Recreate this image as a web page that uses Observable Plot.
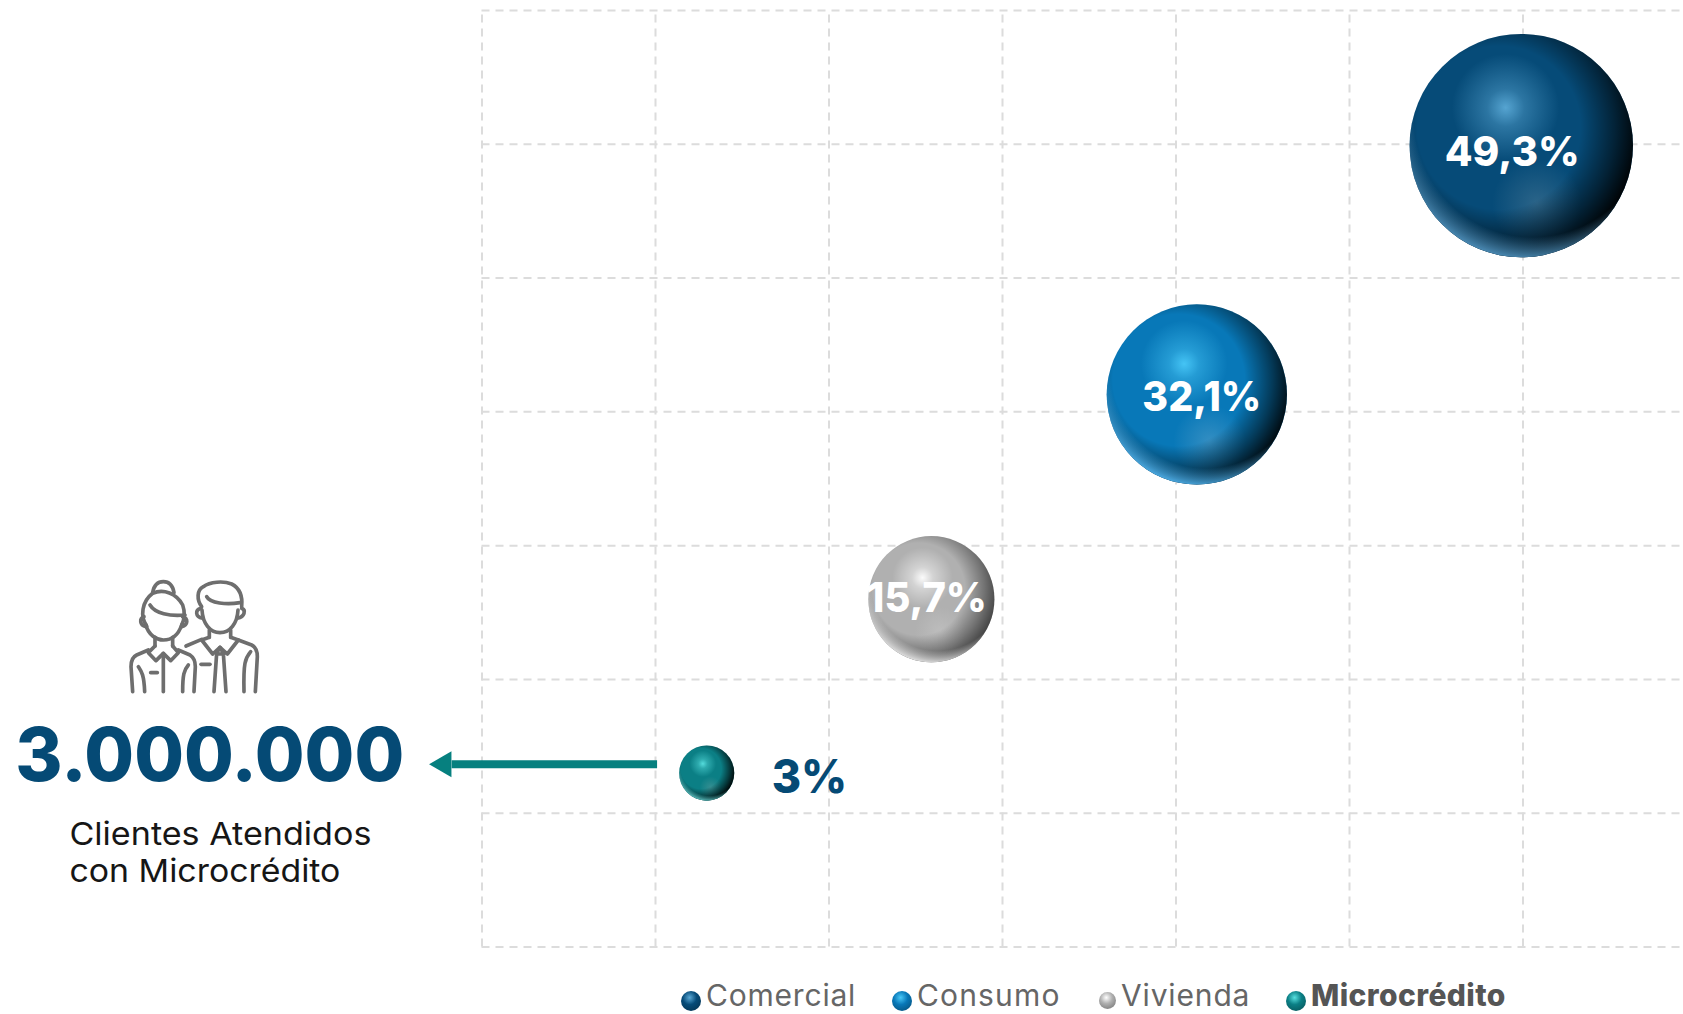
<!DOCTYPE html>
<html lang="es">
<head>
<meta charset="utf-8">
<title>Clientes Atendidos con Microcrédito</title>
<script src="https://cdn.jsdelivr.net/npm/d3@7"></script>
<script src="https://cdn.jsdelivr.net/npm/@observablehq/plot@0.6"></script>
<style>
  html, body { margin: 0; padding: 0; background: #fff; overflow: hidden; }
  svg { display: block; }
  #legend { position: relative; height: 39px; font-family: Inter, sans-serif; font-size: 30px; color: #666; }
  #legend .item { position: absolute; top: 2px; display: flex; align-items: center; height: 37px; line-height: 37px; }
  #legend .swatch { display: inline-block; border-radius: 50%; margin-right: 5px; position: relative; top: 5px; }
</style>
</head>
<body>
<div id="chart"></div>
<div id="legend"></div>
<script>
// ---- values ----
const categories = ["Comercial", "Consumo", "Vivienda", "Microcrédito"];
const shares = [49.3, 32.1, 15.7, 3];
const shareLabels = ["49,3%", "32,1%", "15,7%", "3%"];
const xValues = [5.99, 4.12, 2.59, 1.295];
const yValues = [5.99, 4.13, 2.6, 1.3];
const xGrid = [0, 1, 2, 3, 4, 5, 6];
const yGrid = [0, 1, 2, 3, 4, 5, 6, 7];
const headline = "3.000.000";
const captionLines = ["Clientes Atendidos", "con Microcrédito"];

// ---- styling ----
const INK = "#054a75";
const FONT = "Inter, sans-serif";
const palette = [
  {base: "#064b78", hl: "#5aa9d6", glow: "#3f7292", rim: "#4a8ab4", dark: 0.97},
  {base: "#0878b8", hl: "#48c8f8", glow: "#4a9ac8", rim: "#4aa8e0", dark: 0.92},
  {base: "#b0b0b0", hl: "#ffffff", glow: "#c4c4c4", rim: "#dedede", dark: 0.62},
  {base: "#0b7f85", hl: "#58e0e0", glow: "#4a9698", rim: "#58bcbc", dark: 0.97}
];
const labelStyle = [
  {dx: -9, dy: 7, size: 41, width: 135, anchor: "middle", fill: "white"},
  {dx: 5, dy: 3, size: 41, width: 119, anchor: "middle", fill: "white"},
  {dx: -4.5, dy: 0, size: 41, width: 120, anchor: "middle", fill: "white"},
  {dx: 65, dy: 5, size: 46, width: 75.5, anchor: "start", fill: INK}
];
const rows = categories.map((name, i) => ({name, i, share: shares[i], label: shareLabels[i], x: xValues[i], y: yValues[i]}));

const layers = ["base", "hl", "glow", "dark", "rim"];
const sphere = layer => Plot.dot(rows, {
  x: "x", y: "y", r: "share",
  fill: d => layer === "base" ? palette[d.i].base : `url(#s${d.i}-${layer})`,
  stroke: null
});

// The little couple icon
const iconPaths = [
  "M458,98 C462,75 475,65 490,65 C505,65 518,75 522,98",
  "M440,198 C420,170 425,125 458,100 C490,85 530,100 548,135 C555,155 555,175 545,195",
  "M432,170 C418,175 418,195 438,200", "M548,170 C565,175 565,195 545,200",
  "M450,135 C465,160 510,170 555,165",
  "M438,195 C445,225 470,240 490,240 C515,240 535,225 545,195",
  "M465,232 L465,258 M518,232 L518,258",
  "M465,258 L445,278 L468,302 L490,280 L512,302 L535,278 L518,258",
  "M445,270 L410,285 C395,292 393,305 393,320 L398,395",
  "M535,270 L570,285 C585,295 586,310 586,320 L582,395",
  "M490,280 L490,395",
  "M415,320 C425,335 432,345 434,395", "M565,315 C552,330 548,345 548,395",
  "M452,338 L472,338",
  "M605,140 C590,120 590,90 610,80 C630,65 670,62 695,72 C720,85 728,110 725,140",
  "M620,110 C630,130 680,135 720,128",
  "M603,145 C585,150 585,170 608,175", "M725,145 C738,150 735,170 712,175",
  "M606,150 C608,190 630,218 660,218 C690,218 712,190 714,150",
  "M628,210 L628,232 M692,210 L692,232",
  "M628,232 L605,240 L638,282 L660,262 L682,282 L715,240 L692,232",
  "M558,258 L605,238",
  "M715,240 L755,255 C770,262 772,275 772,290 L766,395",
  "M660,262 L650,280 L642,395 M660,262 L670,280 L678,395 M650,282 L672,282",
  "M752,275 C735,295 730,310 732,395",
  "M603,313 L630,313"
];
const icon = () => {
  const g = d3.create("svg:g").attr("transform", "translate(0,560) scale(0.33333)")
    .attr("fill", "none").attr("stroke", "#6e6e6e").attr("stroke-width", 11)
    .attr("stroke-linecap", "round").attr("stroke-linejoin", "round");
  iconPaths.forEach(d => g.append("path").attr("d", d));
  return g.node();
};

const gridStyle = {stroke: "#dcdcdc", strokeWidth: 2, strokeDasharray: "8 6"};
const xRight = 6.925;
const text = (t, x, y, o) => Plot.text([t], {x: () => x, y: () => y, text: d => d, fontFamily: FONT, textAnchor: "start", ...o});

const plot = Plot.plot({
  width: 1683, height: 975,
  margin: 0,
  x: {domain: [0, 6], range: [481.5, 1522.5], axis: null},
  y: {domain: [0, 7], range: [946.5, 10], axis: null},
  r: {type: "sqrt", domain: [0, 49.3], range: [0, 111.7]},
  color: {type: "identity"},
  marks: [
    Plot.ruleX(xGrid, {x: d => d, y1: 0, y2: 7, ...gridStyle}),
    Plot.ruleY(yGrid, {y: d => d, x1: 0, x2: xRight, ...gridStyle}),
    ...layers.map(sphere),
    ...rows.map((d, i) => Plot.text([d], {
      x: "x", y: "y", text: "label",
      dx: labelStyle[i].dx, dy: labelStyle[i].dy,
      fontSize: labelStyle[i].size, fontWeight: 800, fontFamily: FONT,
      fill: labelStyle[i].fill, textAnchor: labelStyle[i].anchor
    })),
    // arrow from the Microcrédito sphere to the headline
    Plot.ruleY([1.366], {x1: -0.172, x2: 1.012, stroke: "#06807f", strokeWidth: 8}),
    Plot.dot([0], {x: () => -0.219, y: () => 1.366, symbol: "triangle", r: 9.6, rotate: -90, fill: "#06807f", stroke: null}),
    icon,
    text(headline, -2.69, 1.418, {fontSize: 74, fontWeight: 800, fill: INK}),
    text(captionLines[0], -2.378, 0.84, {fontSize: 31.5, fill: "#161616"}),
    text(captionLines[1], -2.378, 0.56, {fontSize: 31.5, fill: "#161616"})
  ]
});

// Sphere shading gradients
const defs = d3.select(plot).insert("defs", ":first-child");
const radial = (id, cx, cy, r, stops) => {
  const g = defs.append("radialGradient").attr("id", id)
    .attr("cx", cx).attr("cy", cy).attr("r", r);
  stops.forEach(([o, c, a]) => g.append("stop").attr("offset", o).attr("stop-color", c).attr("stop-opacity", a));
};
palette.forEach((p, i) => {
  radial(`s${i}-hl`, 0.43, 0.33, 0.24, [[0, p.hl, 0.95], [0.35, p.hl, 0.45], [1, p.hl, 0]]);
  radial(`s${i}-glow`, 0.57, 0.76, 0.2, [[0, p.glow, 0.65], [1, p.glow, 0]]);
  radial(`s${i}-dark`, 0.4, 0.42, 0.63, [[0.58, "#000", 0], [0.82, "#000", p.dark * 0.55], [1, "#000", p.dark]]);
  radial(`s${i}-rim`, 0.55, 0.38, 0.63, [[0.84, p.rim, 0], [1, p.rim, 1]]);
});

// Fit the stand-in font to the widths of the original lettering
const widths = new Map([
  ...rows.map((d, i) => [d.label, labelStyle[i].width]),
  [headline, 389], [captionLines[0], 302], [captionLines[1], 271]
]);
d3.select(plot).selectAll("text").each(function () {
  const w = widths.get(this.textContent);
  if (w) {
    this.setAttribute("textLength", w);
    this.setAttribute("lengthAdjust", "spacingAndGlyphs");
  }
});
document.getElementById("chart").append(plot);

// Legend, below the SVG
const legendLeft = [681, 892, 1099, 1286];
const swatchR = [10, 10, 8.5, 10];
const spacing = ["0.8px", "1.15px", "0.85px", "0.4px"];
const legend = d3.select("#legend");
categories.forEach((name, i) => {
  const p = palette[i];
  const item = legend.append("div").attr("class", "item").style("left", legendLeft[i] + "px");
  item.append("span").attr("class", "swatch")
    .style("width", swatchR[i] * 2 + "px").style("height", swatchR[i] * 2 + "px")
    .style("background", `radial-gradient(circle at 43% 33%, ${p.hl} 0%, ${p.base} 40%, ${d3.color(p.base).darker(1.4)} 100%)`);
  item.append("span").text(name).style("letter-spacing", spacing[i])
    .style("font-weight", i === 3 ? 800 : 400)
    .style("color", i === 3 ? "#555" : "#666");
});
</script>
</body>
</html>
